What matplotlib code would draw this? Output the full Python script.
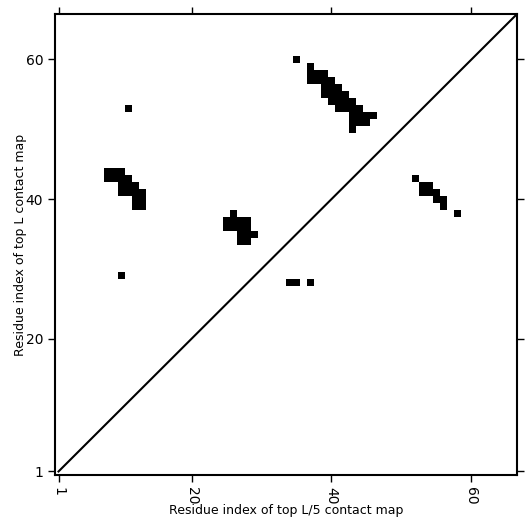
import numpy as np
import matplotlib
matplotlib.use("Agg")
import matplotlib.pyplot as plt

# sequence length
L = 66

# contacts as (column, row) residue pairs, grouped by row
contact_rows = [60, 59, 58, 57, 56, 55, 54, 53, 53, 52, 51, 50,
                44, 43, 42, 41, 40, 39, 38, 37, 36, 35, 34, 29, 28,
                43, 42, 41, 40, 39, 38]
contact_cols = [[35], [37], [37, 38, 39], [37, 38, 39, 40], [39, 40, 41],
                [39, 40, 41, 42], [40, 41, 42, 43], [41, 42, 43, 44], [11],
                [43, 44, 45, 46], [43, 44, 45], [43],
                [8, 9, 10], [8, 9, 10, 11], [10, 11, 12], [10, 11, 12, 13],
                [12, 13], [12, 13], [26], [25, 26, 27, 28], [25, 26, 27, 28],
                [27, 28, 29], [27, 28], [10], [34, 35, 37],
                [52], [53, 54], [53, 54, 55], [55, 56], [56], [58]]

ticks = [1, 20, 40, 60]

grid = np.zeros((L, L))
for r, cols in zip(contact_rows, contact_cols):
    for c in cols:
        grid[r - 1, c - 1] = 1

fig = plt.figure(figsize=(5.31, 5.31), dpi=100)
ax = fig.add_axes([0.1036, 0.1055, 0.870, 0.868])

ax.imshow(grid, cmap="Greys", origin="lower", interpolation="nearest",
          extent=(0.5, L + 0.5, 0.5, L + 0.5), vmin=0, vmax=1, aspect="auto")
ax.plot([1, L + 0.5], [1, L + 0.5], color="black", linewidth=1.5)

ax.set_xlim(0.5, L + 0.5)
ax.set_ylim(0.5, L + 0.5)
ax.set_xticks(ticks)
ax.set_yticks(ticks)
ax.set_xticklabels([str(t) for t in ticks], rotation=270)
ax.tick_params(direction="out", length=5, width=1, labelsize=10,
               top=True, right=True)
for s in ax.spines.values():
    s.set_linewidth(1.5)

ax.set_xlabel("Residue index of top L/5 contact map", fontsize=9, labelpad=0)
ax.set_ylabel("Residue index of top L contact map", fontsize=9, labelpad=-1)

fig.savefig("out.png", dpi=100)
plt.close(fig)
